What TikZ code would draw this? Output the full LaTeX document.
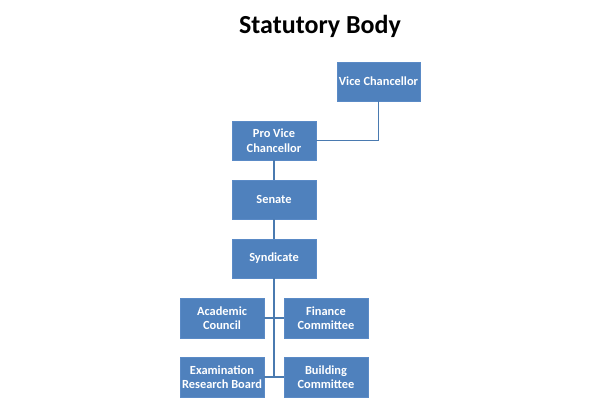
\documentclass[tikz,border=0pt]{standalone}
\usepackage{fontspec}
\setmainfont{Carlito}
\begin{document}
\begin{tikzpicture}[x=0.75pt,y=-0.75pt,
  box/.style={draw=boxedge,line width=0.6pt,fill=boxblue,text=white,font=\fontsize{9.3}{10.8}\selectfont\bfseries,align=center,inner sep=0pt},
  link/.style={draw=lineblue,line width=1.2pt}]
\definecolor{boxblue}{HTML}{4F81BD}
\definecolor{boxedge}{HTML}{5A8AC6}
\definecolor{lineblue}{HTML}{4A7AB0}
\useasboundingbox[fill=white] (0,0) rectangle (600,408);
\node[font=\fontsize{19.5}{22}\selectfont\bfseries] (title) at (320,26) {Statutory Body};
\newcommand{\boxat}[6]{\node[box,minimum width=#4*0.75pt,minimum height=#5*0.75pt] (#1) at (#2,#3) {#6};}
\boxat{vc}{378.5}{81.5}{83}{39}{Vice Chancellor}
\boxat{pvc}{274}{140.5}{84}{39}{Pro Vice\\Chancellor}
\boxat{sen}{274}{199.5}{84}{39}{Senate}
\boxat{syn}{274}{258.5}{84}{39}{Syndicate}
\boxat{ac}{222}{318}{84}{40}{Academic\\Council}
\boxat{fc}{326}{318}{84}{40}{Finance\\Committee}
\boxat{erb}{222}{377}{84}{40}{Examination\\Research Board}
\boxat{bc}{326}{377}{84}{40}{Building\\Committee}
\coordinate (bot) at (274,378);
\draw[link] (vc.south) |- (pvc.east);
\draw[link] (pvc.south) -- (sen.north);
\draw[link] (sen.south) -- (syn.north);
\draw[link] (syn.south) -- (bot);
\draw[link] (ac.east) -- (fc.west);
\draw[link] (erb.east) -- (bc.west);
\end{tikzpicture}
\end{document}
